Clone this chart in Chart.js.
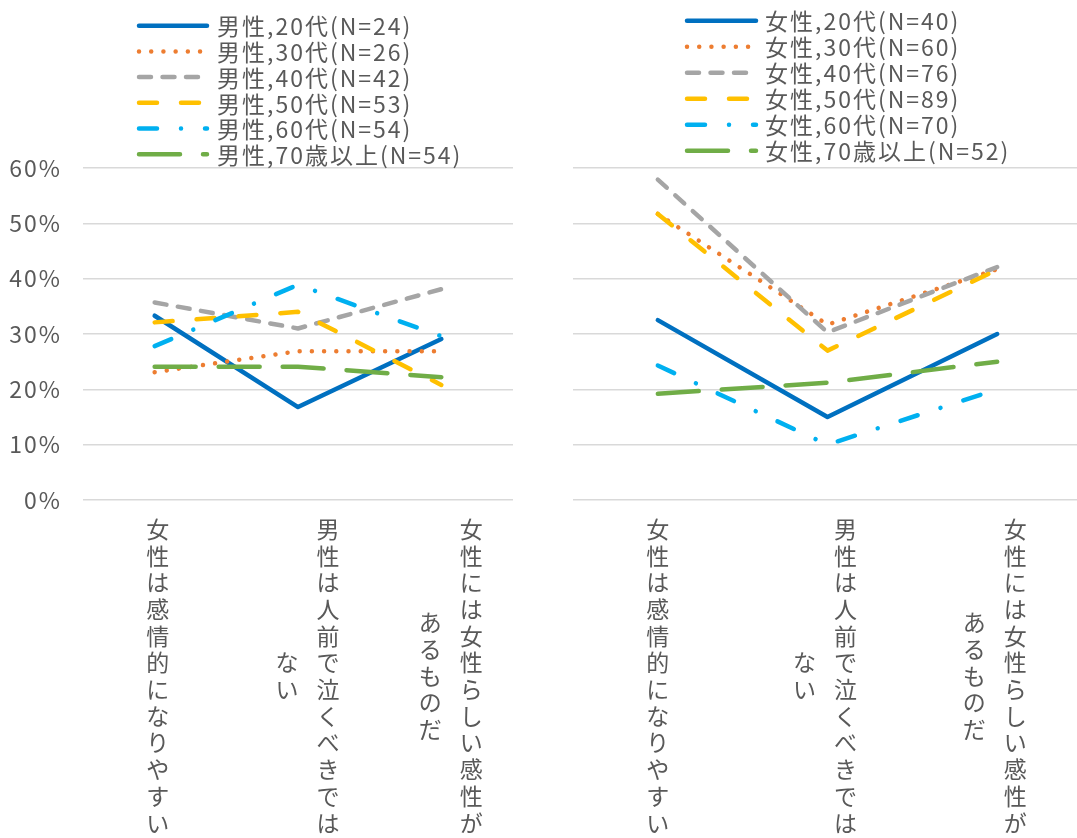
<!DOCTYPE html>
<html lang="ja">
<head>
<meta charset="utf-8">
<title>性別・年代別 ジェンダー意識</title>
<script src="https://cdn.jsdelivr.net/npm/chart.js@4.4.1/dist/chart.umd.min.js"></script>
<style>
  html, body { margin: 0; padding: 0; background: #ffffff; overflow: hidden; width: 1077px; height: 838px; }
  canvas { position: absolute; top: 0; }
  #male { left: 0; }
  #female { left: 540px; }
</style>
</head>
<body>
<canvas id="male" width="540" height="838"></canvas>
<canvas id="female" width="542" height="838"></canvas>
<script>
// Statement categories; each inner array holds the vertical text columns (right to left)
const categories = [
  ['女性は感情的になりやすい'],
  ['男性は人前で泣くべきでは', 'ない'],
  ['女性には女性らしい感性が', 'あるものだ']
];

// Y axis ticks (%)
const yTicks = [0, 10, 20, 30, 40, 50, 60];

// Series names
const maleLabels = ['男性,20代(N=24)', '男性,30代(N=26)', '男性,40代(N=42)', '男性,50代(N=53)', '男性,60代(N=54)', '男性,70歳以上(N=54)'];
const femaleLabels = ['女性,20代(N=40)', '女性,30代(N=60)', '女性,40代(N=76)', '女性,50代(N=89)', '女性,60代(N=70)', '女性,70歳以上(N=52)'];

// Share agreeing (%), per category
const male20 = [33.3, 16.8, 29.1];
const male30 = [23.1, 26.9, 26.9];
const male40 = [35.7, 31.0, 38.1];
const male50 = [32.1, 34.0, 20.8];
const male60 = [27.8, 38.9, 29.6];
const male70 = [24.1, 24.1, 22.2];

const female20 = [32.5, 15.0, 30.0];
const female30 = [51.7, 31.7, 41.7];
const female40 = [57.9, 30.3, 42.1];
const female50 = [51.7, 27.0, 41.6];
const female60 = [24.3, 10.0, 20.0];
const female70 = [19.2, 21.2, 25.0];

const FONT_FAMILY = '"Noto Sans CJK JP", "Noto Sans", sans-serif';
const TEXT_COLOR = '#595959';
const GRID_COLOR = '#d9d9d9';

// Line appearance for each age group
const seriesStyles = [
  { color: '#0070C0', dash: [] },
  { color: '#ED7D31', dash: [0.01, 12.2] },
  { color: '#A5A5A5', dash: [12, 11.5] },
  { color: '#FFC000', dash: [18, 24] },
  { color: '#00B0F0', dash: [18, 24, 0.01, 24] },
  { color: '#70AD47', dash: [41, 23] }
];

function buildDatasets(labels, series) {
  return series.map((values, i) => ({
    label: labels[i],
    data: values,
    borderColor: seriesStyles[i].color,
    backgroundColor: seriesStyles[i].color,
    borderWidth: 4.5,
    borderDash: seriesStyles[i].dash,
    borderCapStyle: 'round',
    borderJoinStyle: 'round',
    pointRadius: 0,
    pointHoverRadius: 0,
    tension: 0,
    fill: false,
    order: series.length - i   // later age groups are painted over earlier ones
  }));
}

// Wider tracking for all text painted on the canvas
const tracking = {
  id: 'tracking',
  beforeDraw(chart) { chart.ctx.letterSpacing = '2px'; }
};

// Legend: one row per series, with the real line pattern as sample
const lineLegend = {
  id: 'lineLegend',
  afterDraw(chart, args, opts) {
    const ctx = chart.ctx;
    ctx.save();
    ctx.font = `23px ${FONT_FAMILY}`;
    ctx.letterSpacing = '2px';
    ctx.fillStyle = TEXT_COLOR;
    ctx.textAlign = 'left';
    ctx.textBaseline = 'middle';
    chart.data.datasets.forEach((ds, i) => {
      const y = opts.top + i * opts.rowHeight;
      ctx.save();
      ctx.strokeStyle = ds.borderColor;
      ctx.lineWidth = ds.borderWidth;
      ctx.lineCap = ds.borderCapStyle;
      ctx.setLineDash(ds.borderDash);
      ctx.beginPath();
      ctx.moveTo(opts.x, y);
      ctx.lineTo(opts.x + opts.width, y);
      ctx.stroke();
      ctx.restore();
      ctx.fillText(ds.label, opts.textX, y + 1);
    });
    ctx.restore();
  }
};

// Category labels written vertically (tategaki) below the plot
const verticalLabels = {
  id: 'verticalLabels',
  afterDraw(chart, args, opts) {
    const ctx = chart.ctx;
    const xs = chart.scales.x;
    ctx.save();
    ctx.font = `23px ${FONT_FAMILY}`;
    ctx.letterSpacing = '0px';
    ctx.fillStyle = TEXT_COLOR;
    ctx.textAlign = 'center';
    ctx.textBaseline = 'middle';
    chart.data.labels.forEach((cols, i) => {
      const x = xs.getPixelForValue(i);
      cols.forEach((col, j) => {
        const cx = cols.length === 1 ? x + opts.singleOffset : x + opts.firstOffset - j * opts.columnGap;
        const chars = Array.from(col);
        chars.forEach((ch, k) => {
          ctx.fillText(ch, cx, opts.centerY + (k - (chars.length - 1) / 2) * opts.step);
        });
      });
    });
    ctx.restore();
  }
};

function makeChart(canvasId, labels, series, cfg) {
  return new Chart(document.getElementById(canvasId), {
    type: 'line',
    data: { labels: categories, datasets: buildDatasets(labels, series) },
    options: {
      responsive: false,
      animation: false,
      events: [],
      layout: { padding: { top: 168, right: cfg.padRight, bottom: 0, left: 0 } },
      scales: {
        x: {
          type: 'category',
          offset: true,
          grid: { display: false },
          border: { display: false },
          ticks: { display: false },
          afterFit(scale) { scale.height = 338; }
        },
        y: {
          min: yTicks[0],
          max: yTicks[yTicks.length - 1],
          afterBuildTicks(scale) { scale.ticks = yTicks.map(v => ({ value: v })); },
          grid: { color: GRID_COLOR, lineWidth: 1.6, drawTicks: false },
          border: { display: false },
          ticks: {
            display: cfg.showTicks,
            padding: 21,
            color: TEXT_COLOR,
            font: { family: FONT_FAMILY, size: 23 },
            callback: v => v + '%'
          },
          afterFit(scale) { scale.width = cfg.axisWidth; }
        }
      },
      plugins: {
        legend: { display: false },
        tooltip: { enabled: false },
        lineLegend: cfg.legend,
        verticalLabels: cfg.vlabels
      }
    },
    plugins: [tracking, lineLegend, verticalLabels]
  });
}

makeChart('male', maleLabels, [male20, male30, male40, male50, male60, male70], {
  padRight: 27,
  axisWidth: 83,
  showTicks: true,
  legend: { x: 139, width: 68, textX: 217, top: 25.7, rowHeight: 25.7 },
  vlabels: { centerY: 676, step: 26.7, singleOffset: 3, firstOffset: 30, columnGap: 41 }
});

makeChart('female', femaleLabels, [female20, female30, female40, female50, female60, female70], {
  padRight: 0,
  axisWidth: 33,
  showTicks: false,
  legend: { x: 147, width: 69, textX: 225, top: 20.7, rowHeight: 26 },
  vlabels: { centerY: 676, step: 26.7, singleOffset: 0, firstOffset: 18, columnGap: 41 }
});
</script>
</body>
</html>
